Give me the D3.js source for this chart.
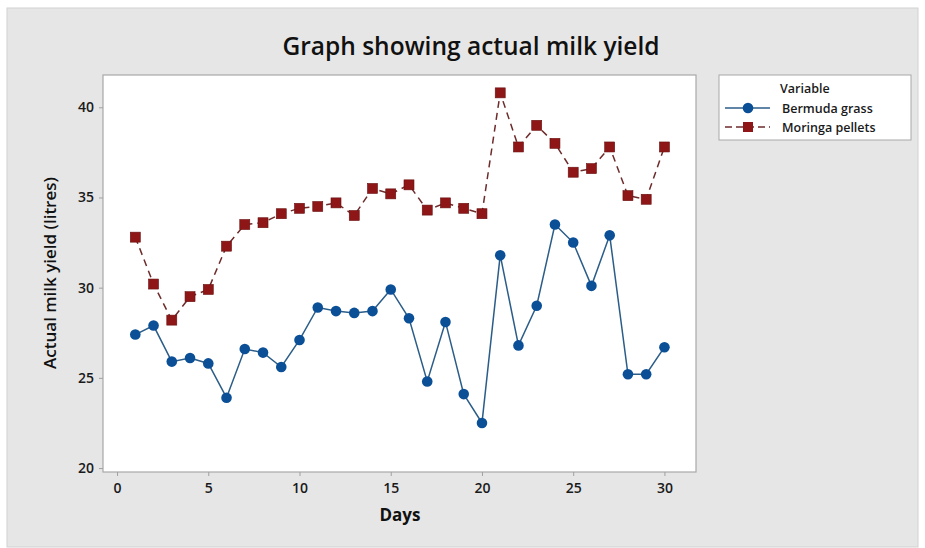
<!DOCTYPE html>
<html>
<head>
<meta charset="utf-8">
<script src="https://cdn.jsdelivr.net/npm/d3@7"></script>
<style>
  html, body { margin: 0; padding: 0; background: #ffffff; }
  svg { display: block; }
  text { font-family: "Open Sans", "Noto Sans", sans-serif; }
</style>
</head>
<body>
<svg id="chart" width="925" height="548"></svg>
<script>
const days = d3.range(1, 31);
const bermudaGrass = [27.4, 27.9, 25.9, 26.1, 25.8, 23.9, 26.6, 26.4, 25.6, 27.1,
                      28.9, 28.7, 28.6, 28.7, 29.9, 28.3, 24.8, 28.1, 24.1, 22.5,
                      31.8, 26.8, 29.0, 33.5, 32.5, 30.1, 32.9, 25.2, 25.2, 26.7];
const moringaPellets = [32.8, 30.2, 28.2, 29.5, 29.9, 32.3, 33.5, 33.6, 34.1, 34.4,
                        34.5, 34.7, 34.0, 35.5, 35.2, 35.7, 34.3, 34.7, 34.4, 34.1,
                        40.8, 37.8, 39.0, 38.0, 36.4, 36.6, 37.8, 35.1, 34.9, 37.8];
const xTicks = [0, 5, 10, 15, 20, 25, 30];
const yTicks = [20, 25, 30, 35, 40];
const seriesNames = ["Bermuda grass", "Moringa pellets"];

const svg = d3.select("#chart");

// background panel
svg.append("rect").attr("x", 7).attr("y", 8).attr("width", 911).attr("height", 539)
  .attr("fill", "#e6e6e6").attr("stroke", "#d2d2d2");

const plot = { left: 103, top: 75, right: 696, bottom: 472 };

const x = d3.scaleLinear().domain([-0.77, 31.73]).range([plot.left, plot.right]);
const y = d3.scaleLinear().domain([19.78, 41.79]).range([plot.bottom, plot.top]);

svg.append("rect").attr("x", plot.left).attr("y", plot.top)
  .attr("width", plot.right - plot.left).attr("height", plot.bottom - plot.top)
  .attr("fill", "#ffffff").attr("stroke", "#a8a8a8").attr("stroke-width", 1.2);

// axes
const xAxis = svg.append("g").attr("transform", `translate(0,${plot.bottom})`)
  .call(d3.axisBottom(x).tickValues(xTicks).tickSize(4).tickPadding(7));
const yAxis = svg.append("g").attr("transform", `translate(${plot.left},0)`)
  .call(d3.axisLeft(y).tickValues(yTicks).tickSize(4).tickPadding(5));
[xAxis, yAxis].forEach(a => {
  a.select(".domain").remove();
  a.selectAll("line").attr("stroke", "#a0a0a0");
  a.selectAll("text").attr("fill", "#1a1a1a").style("font-size", "14px").style("font-weight", "600");
});

// title and axis labels
svg.append("text").attr("x", 471).attr("y", 55).attr("text-anchor", "middle")
  .style("font-size", "24.5px").style("font-weight", "600").attr("fill", "#111")
  .text("Graph showing actual milk yield");
svg.append("text").attr("x", 400).attr("y", 521).attr("text-anchor", "middle")
  .style("font-size", "17px").style("font-weight", "700").attr("fill", "#111")
  .text("Days");
svg.append("text").attr("transform", "translate(56,273) rotate(-90)").attr("text-anchor", "middle")
  .style("font-size", "17px").style("font-weight", "600").attr("fill", "#111")
  .text("Actual milk yield (litres)");

const blue = "#0b4f96", blueLine = "#2b5d88";
const red = "#8e1616", redLine = "#6e2b2b";

const line = d3.line().x((d, i) => x(days[i])).y(d => y(d));

svg.append("path").datum(moringaPellets).attr("d", line).attr("fill", "none")
  .attr("stroke", redLine).attr("stroke-width", 1.5).attr("stroke-dasharray", "7,5");
svg.append("path").datum(bermudaGrass).attr("d", line).attr("fill", "none")
  .attr("stroke", blueLine).attr("stroke-width", 1.5);

svg.append("g").selectAll("rect").data(moringaPellets).join("rect")
  .attr("x", (d, i) => x(days[i]) - 5).attr("y", d => y(d) - 5)
  .attr("width", 10).attr("height", 10).attr("fill", red).attr("stroke", "#6a1010").attr("stroke-width", 0.6);
svg.append("g").selectAll("circle").data(bermudaGrass).join("circle")
  .attr("cx", (d, i) => x(days[i])).attr("cy", d => y(d)).attr("r", 5.3).attr("fill", blue);

// legend
const lg = svg.append("g");
lg.append("rect").attr("x", 719).attr("y", 75).attr("width", 192).attr("height", 65)
  .attr("fill", "#ffffff").attr("stroke", "#a8a8a8");
lg.append("text").attr("x", 780).attr("y", 93).style("font-size", "12.5px").style("font-weight", "600")
  .attr("fill", "#1a1a1a").text("Variable");
const rows = [108, 127];
rows.forEach((ry, i) => {
  lg.append("line").attr("x1", 725).attr("x2", 770).attr("y1", ry).attr("y2", ry)
    .attr("stroke", i === 0 ? blueLine : redLine).attr("stroke-width", 1.5)
    .attr("stroke-dasharray", i === 0 ? null : "7,4");
  if (i === 0) {
    lg.append("circle").attr("cx", 748).attr("cy", ry).attr("r", 5.3).attr("fill", blue);
  } else {
    lg.append("rect").attr("x", 743).attr("y", ry - 5).attr("width", 10).attr("height", 10).attr("fill", red);
  }
  lg.append("text").attr("x", 782).attr("y", ry + 4.5).style("font-size", "12.5px").style("font-weight", "600")
    .attr("fill", "#1a1a1a").text(seriesNames[i]);
});
</script>
</body>
</html>
